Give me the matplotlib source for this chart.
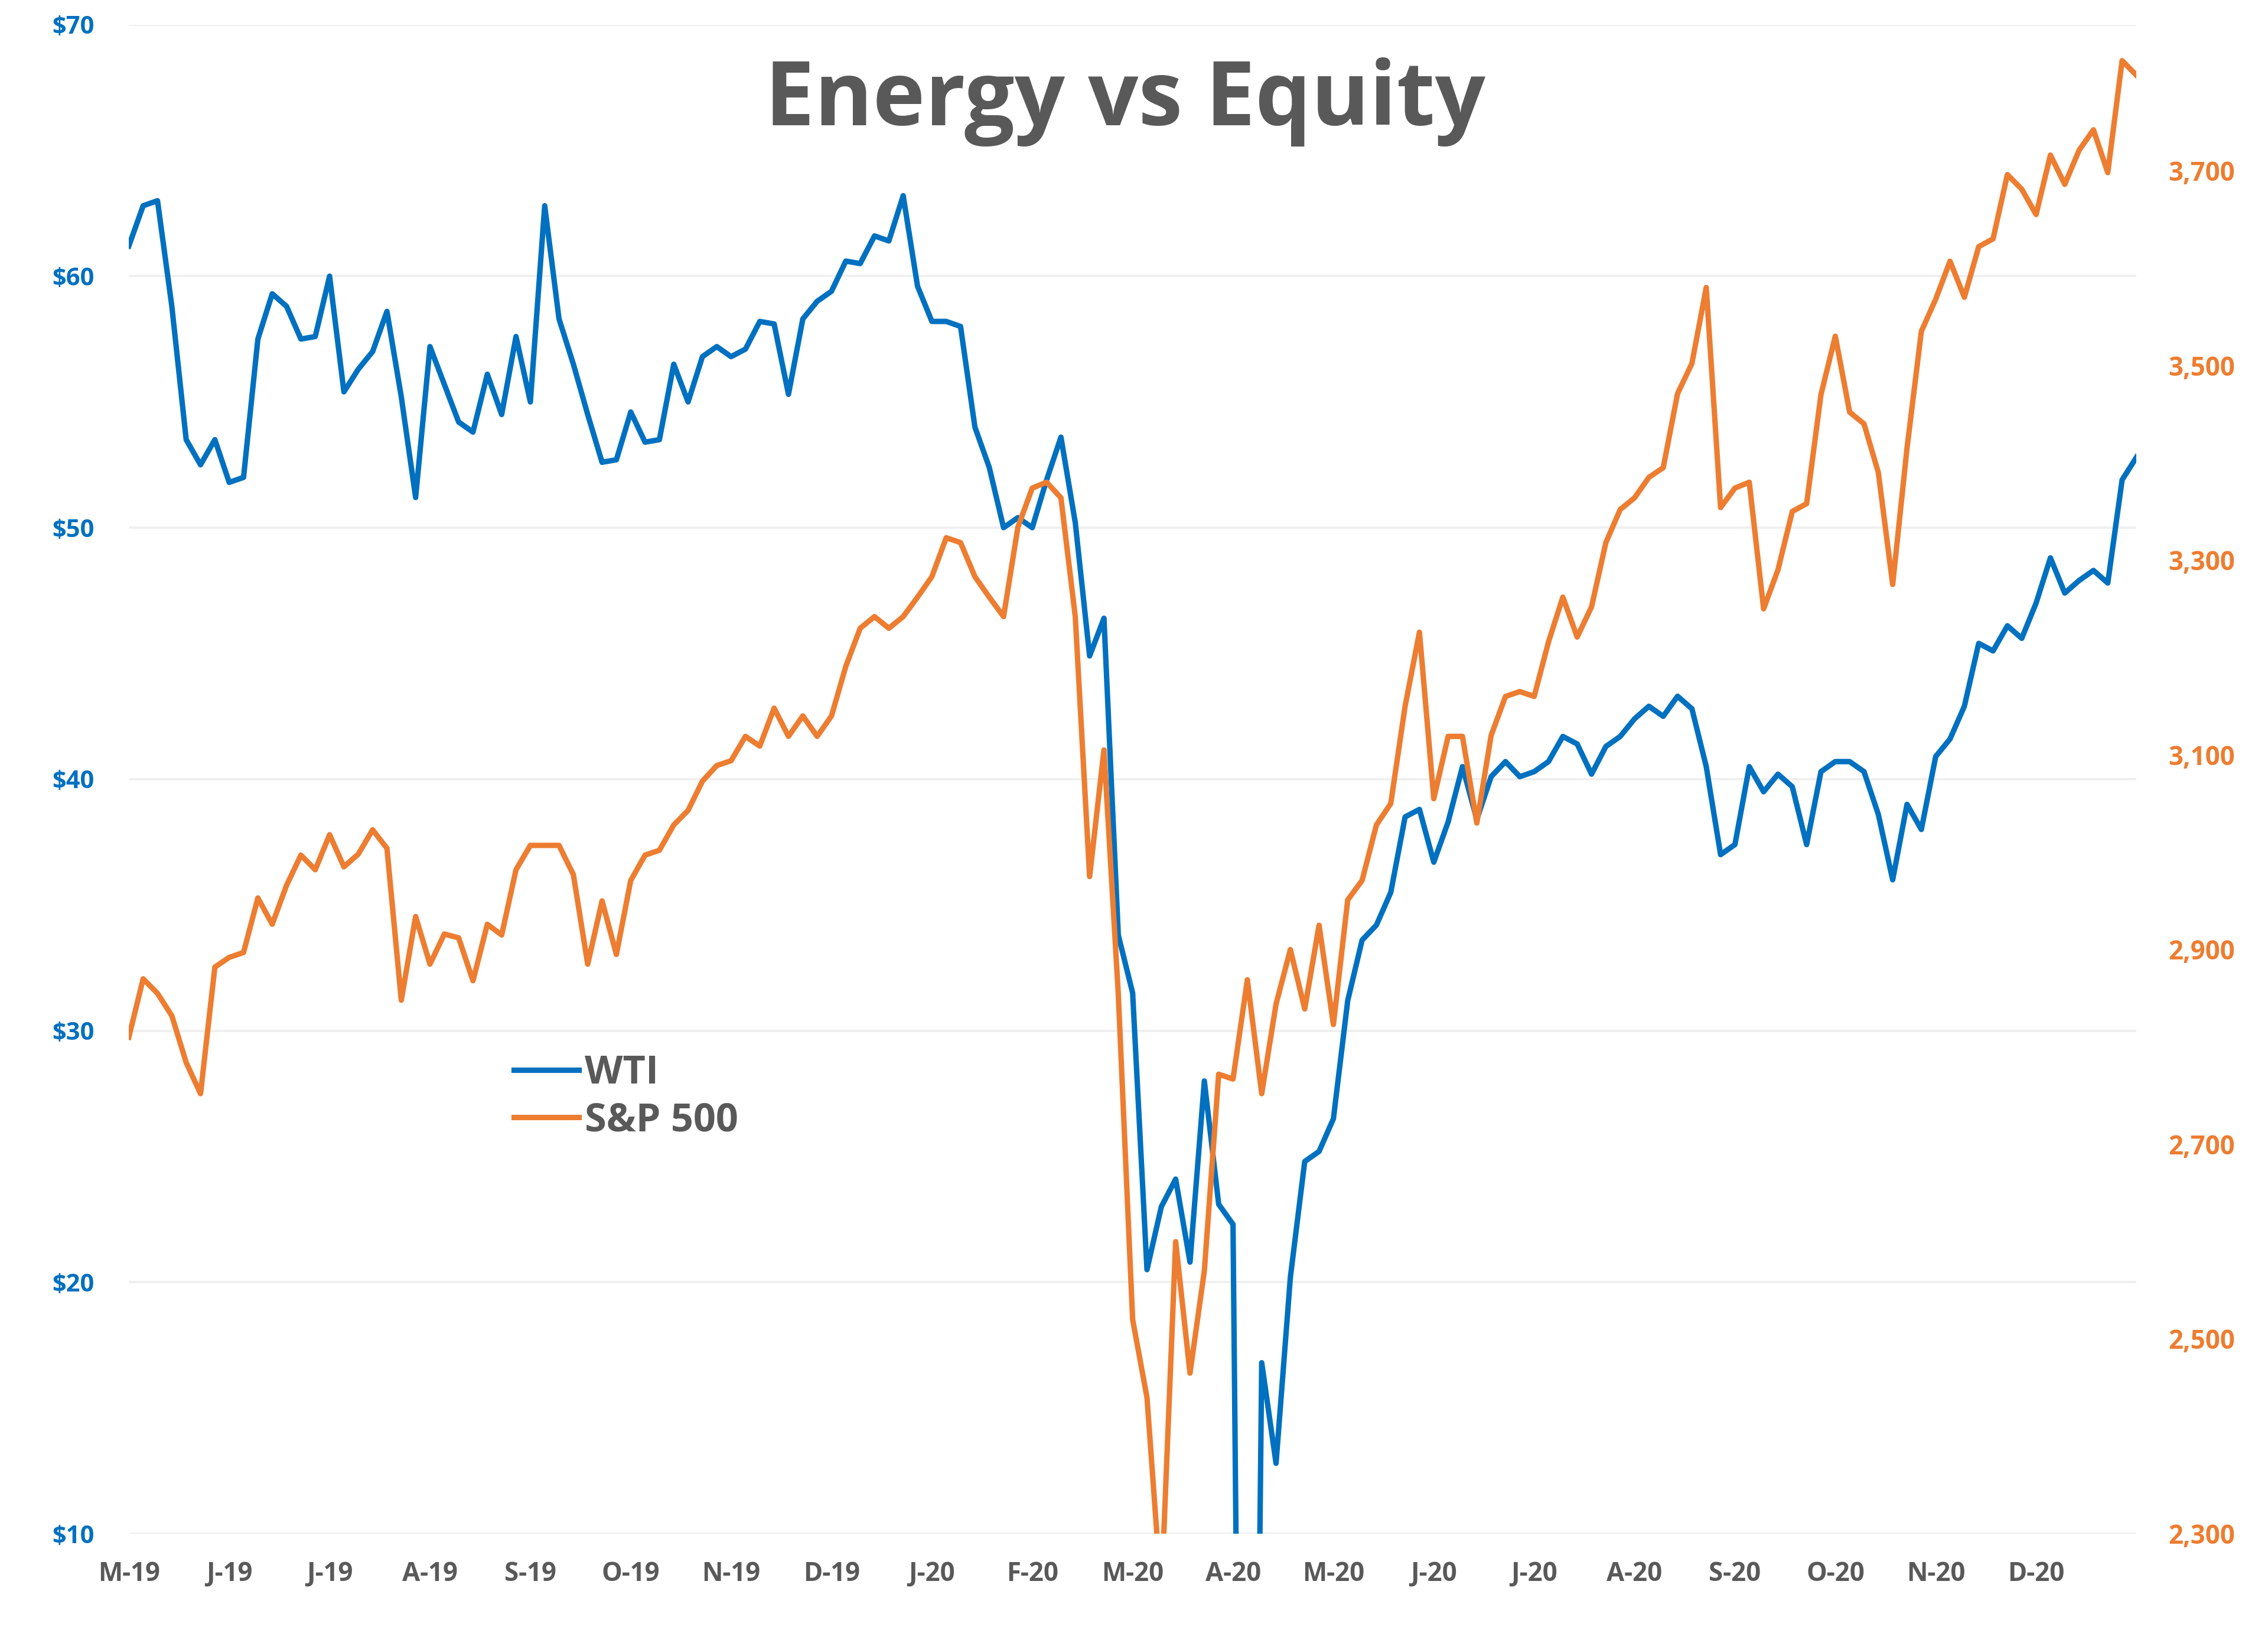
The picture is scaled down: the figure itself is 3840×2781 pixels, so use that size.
import numpy as np
import matplotlib.pyplot as plt
from matplotlib.ticker import FuncFormatter

plt.rcParams['font.family'] = ['Open Sans', 'DejaVu Sans']

# sampled every ~3 trading days, mid May 2019 -> early Jan 2021
wti = [61.2, 62.8, 63.0, 58.8, 53.5, 52.5, 53.5, 51.8, 52.0, 57.5,
       59.3, 58.8, 57.5, 57.6, 60.0, 55.4, 56.3, 57.0, 58.6, 55.2,
       51.2, 57.2, 55.7, 54.2, 53.8, 56.1, 54.5, 57.6, 55.0, 62.8,
       58.3, 56.5, 54.5, 52.6, 52.7, 54.6, 53.4, 53.5, 56.5, 55.0,
       56.8, 57.2, 56.8, 57.1, 58.2, 58.1, 55.3, 58.3, 59.0, 59.4,
       60.6, 60.5, 61.6, 61.4, 63.2, 59.6, 58.2, 58.2, 58.0, 54.0,
       52.4, 50.0, 50.4, 50.0, 51.9, 53.6, 50.2, 44.9, 46.4, 33.8,
       31.5, 20.5, 23.0, 24.1, 20.8, 28.0, 23.1, 22.3, -37.6, 16.8,
       12.8, 20.2, 24.8, 25.2, 26.5, 31.2, 33.6, 34.2, 35.5, 38.5,
       38.8, 36.7, 38.3, 40.5, 38.4, 40.1, 40.7, 40.1, 40.3, 40.7,
       41.7, 41.4, 40.2, 41.3, 41.7, 42.4, 42.9, 42.5, 43.3, 42.8,
       40.5, 37.0, 37.4, 40.5, 39.5, 40.2, 39.7, 37.4, 40.3, 40.7,
       40.7, 40.3, 38.6, 36.0, 39.0, 38.0, 40.9, 41.6, 42.9, 45.4,
       45.1, 46.1, 45.6, 47.0, 48.8, 47.4, 47.9, 48.3, 47.8, 51.9,
       52.8]

spx = [2810, 2870, 2855, 2832, 2784, 2752, 2882, 2892, 2897, 2953,
       2926, 2966, 2997, 2982, 3018, 2985, 2998, 3023, 3004, 2848,
       2934, 2885, 2916, 2912, 2868, 2926, 2915, 2982, 3007, 3007,
       3007, 2977, 2885, 2950, 2895, 2971, 2997, 3002, 3028, 3043,
       3073, 3089, 3094, 3119, 3109, 3148, 3119, 3140, 3119, 3140,
       3191, 3230, 3242, 3230, 3242, 3262, 3283, 3323, 3318, 3283,
       3262, 3242, 3334, 3374, 3380, 3364, 3242, 2975, 3105, 2854,
       2520, 2440, 2237, 2600, 2465, 2570, 2772, 2767, 2869, 2752,
       2844, 2900, 2839, 2925, 2823, 2951, 2971, 3028, 3050, 3150,
       3226, 3055, 3119, 3119, 3030, 3120, 3160, 3165, 3160, 3216,
       3262, 3221, 3252, 3318, 3352, 3364, 3385, 3395, 3471, 3502,
       3580, 3354, 3374, 3380, 3250, 3290, 3350, 3358, 3470, 3530,
       3452, 3440, 3390, 3275, 3415, 3535, 3568, 3607, 3570, 3622,
       3630, 3696, 3681, 3655, 3716, 3686, 3721, 3742, 3698, 3813,
       3798]

month_labels = ['M-19', 'J-19', 'J-19', 'A-19', 'S-19', 'O-19', 'N-19', 'D-19',
                'J-20', 'F-20', 'M-20', 'A-20', 'M-20', 'J-20', 'J-20', 'A-20',
                'S-20', 'O-20', 'N-20', 'D-20']

blue = '#0070C0'
orange = '#ED7D31'
grey = '#595959'

x = np.arange(len(wti))

fig = plt.figure(figsize=(12.8, 9.27), dpi=300)
ax = fig.add_subplot(111)
fig.subplots_adjust(left=0.0568, right=0.942, bottom=0.0665, top=0.985)
ax2 = ax.twinx()

l1, = ax.plot(x, wti, color=blue, lw=2.2, label='WTI', solid_joinstyle='round')
l2, = ax2.plot(x, spx, color=orange, lw=2.2, label='S&P 500', solid_joinstyle='round')

ax.set_xlim(0, len(wti) - 1)
ax.set_ylim(10, 70)
ax2.set_ylim(2300, 3850)

ax.set_yticks(np.arange(10, 71, 10))
ax.yaxis.set_major_formatter(FuncFormatter(lambda v, p: '$%d' % v))
ax2.set_yticks(np.arange(2300, 3701, 200))
ax2.yaxis.set_major_formatter(FuncFormatter(lambda v, p: '{:,.0f}'.format(v)))

ax.set_xticks(np.arange(0, 7 * len(month_labels), 7))
ax.set_xticklabels(month_labels)

ax.grid(axis='y', color='#EFEFEF', lw=0.9)
ax.set_axisbelow(True)
for a in (ax, ax2):
    for s in a.spines.values():
        s.set_visible(False)

ax.tick_params(axis='y', length=0, pad=14, labelsize=10, labelcolor=blue)
ax.tick_params(axis='x', length=0, pad=11, labelsize=10.5, labelcolor=grey)
ax2.tick_params(axis='y', length=0, pad=13, labelsize=10.5, labelcolor=orange)
for lab in ax.get_xticklabels() + ax.get_yticklabels() + ax2.get_yticklabels():
    lab.set_fontweight('bold')

fig.text(0.496, 0.938, 'Energy vs Equity', ha='center', va='center',
         fontsize=36, fontweight='bold', color=grey)

leg = ax.legend(handles=[l1, l2], loc='center left', bbox_to_anchor=(0.2266, 0.3323),
                bbox_transform=fig.transFigure, frameon=False,
                prop={'size': 16, 'weight': 'bold'},
                handlelength=1.65, handletextpad=0.15, labelspacing=0.2,
                borderpad=0, borderaxespad=0)
for t in leg.get_texts():
    t.set_color(grey)

fig.savefig('out.png', dpi=300)
